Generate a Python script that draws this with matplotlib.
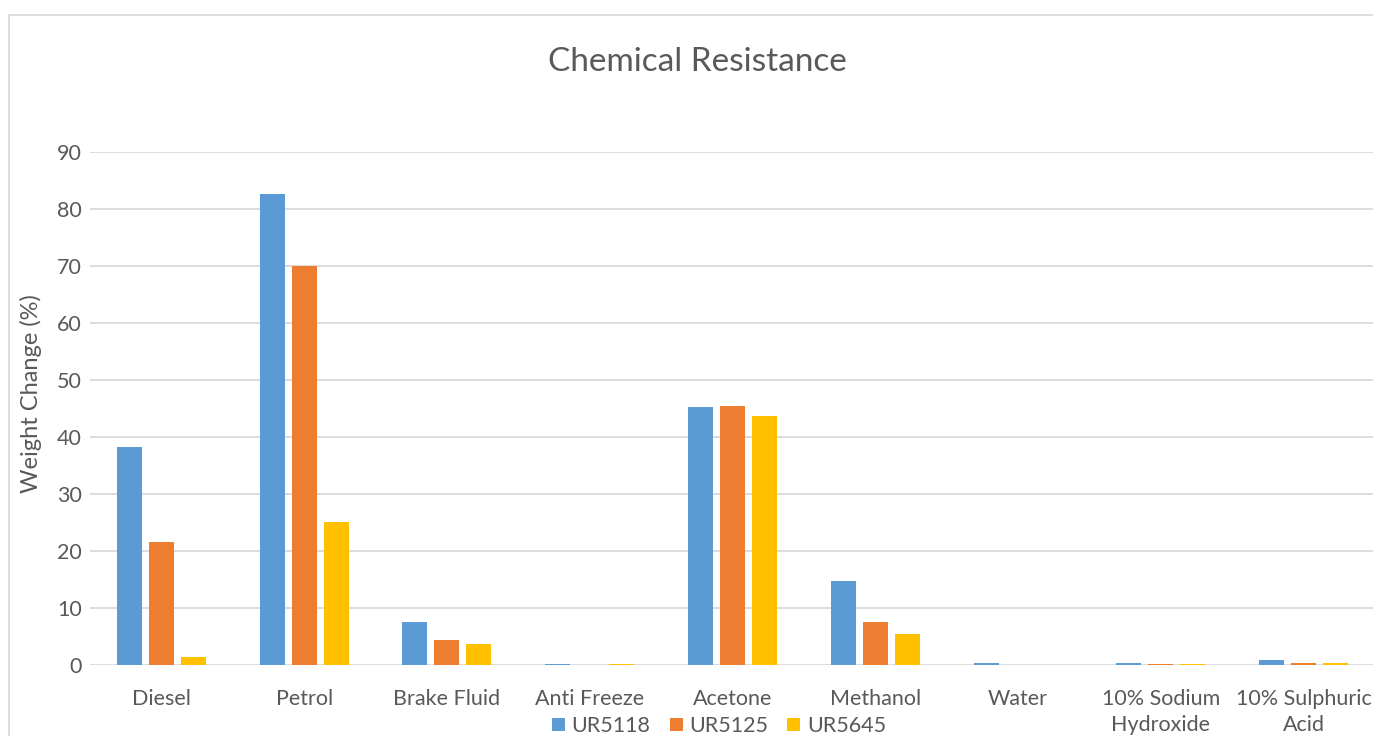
import matplotlib
matplotlib.use("Agg")
import matplotlib.pyplot as plt
import numpy as np
from matplotlib.patches import Rectangle

categories = ["Diesel", "Petrol", "Brake Fluid", "Anti Freeze", "Acetone",
              "Methanol", "Water", "10% Sodium\nHydroxide", "10% Sulphuric\nAcid"]
ur5118 = [38.3, 82.6, 7.6, 0.1, 45.2, 14.8, 0.4, 0.3, 0.8]
ur5125 = [21.5, 70.0, 4.4, -0.2, 45.4, 7.6, 0.0, 0.2, 0.4]
ur5645 = [1.4, 25.1, 3.7, 0.2, 43.7, 5.5, 0.0, 0.2, 0.3]
series_names = ["UR5118", "UR5125", "UR5645"]
colors = ["#5B9BD5", "#ED7D31", "#FFC000"]

plt.rcParams['font.family'] = ['Lato', 'DejaVu Sans']

fig = plt.figure(figsize=(13.73, 7.36), dpi=100)
ax = fig.add_axes([90/1373, 71/736, 1285/1373, 513/736])

x = np.arange(len(categories))
w = 0.175
step = 0.224
for i, (vals, name, c) in enumerate(zip([ur5118, ur5125, ur5645], series_names, colors)):
    ax.bar(x + (i - 1) * step, vals, width=w, color=c, label=name, zorder=3)

ax.set_xlim(-0.5, len(categories) - 0.5)
ax.set_ylim(0, 90)
ax.set_yticks(range(0, 91, 10))
ax.yaxis.grid(True, color="#d9d9d9", linewidth=1.3, zorder=0)
ax.set_axisbelow(True)
for s in ax.spines.values():
    s.set_visible(False)
ax.tick_params(axis='both', length=0, labelsize=15.5, colors="#595959")
ax.tick_params(axis='y', pad=6)
ax.tick_params(axis='x', pad=17)
ax.set_xticks(x)
ax.set_xticklabels(categories, va='top', linespacing=1.4)
ax.set_ylabel("Weight Change (%)", fontsize=17, color="#595959")
ax.yaxis.set_label_coords(-0.037, 0.53)

fig.text(697/1373, 1 - 62/736, "Chemical Resistance", fontsize=24, color="#595959",
         ha='center', va='center')

leg = fig.legend(loc='center', bbox_to_anchor=(719/1373, 1 - 726/736), ncol=3,
                 frameon=False, fontsize=15.5, handlelength=0.6, handleheight=0.6,
                 handletextpad=0.3, columnspacing=0.9, labelcolor="#595959",
                 borderpad=0.1)

fig.patches.append(Rectangle((9/1373, -0.1), 1.2, 1 - 15/736 + 0.1,
                             transform=fig.transFigure, fill=False,
                             edgecolor="#d9d9d9", linewidth=1.3))

fig.savefig("out.png", dpi=100)
